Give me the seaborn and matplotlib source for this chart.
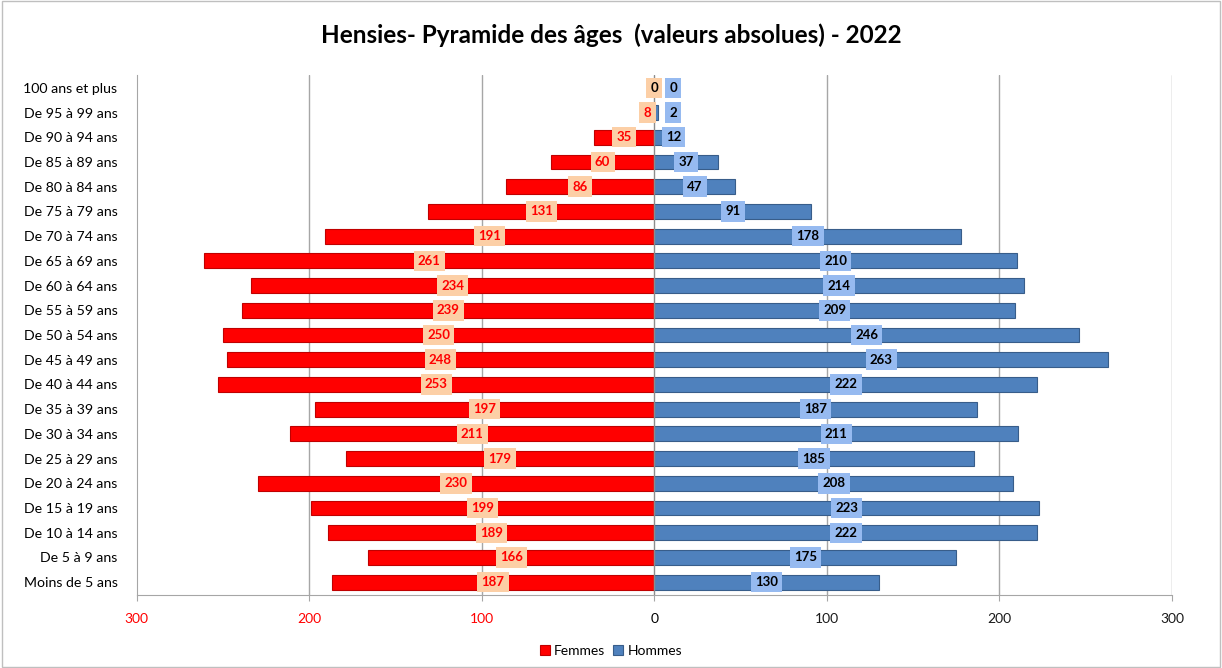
import pandas as pd
import numpy as np
import seaborn as sns
import matplotlib.pyplot as plt
from matplotlib.patches import Rectangle

# categories, top to bottom
ages = ["100 ans et plus", "De 95 à 99 ans", "De 90 à 94 ans", "De 85 à 89 ans",
        "De 80 à 84 ans", "De 75 à 79 ans", "De 70 à 74 ans", "De 65 à 69 ans",
        "De 60 à 64 ans", "De 55 à 59 ans", "De 50 à 54 ans", "De 45 à 49 ans",
        "De 40 à 44 ans", "De 35 à 39 ans", "De 30 à 34 ans", "De 25 à 29 ans",
        "De 20 à 24 ans", "De 15 à 19 ans", "De 10 à 14 ans", "De 5 à 9 ans",
        "Moins de 5 ans"]
femmes = [0, 8, 35, 60, 86, 131, 191, 261, 234, 239, 250, 248, 253, 197, 211,
          179, 230, 199, 189, 166, 187]
hommes = [0, 2, 12, 37, 47, 91, 178, 210, 214, 209, 246, 263, 222, 187, 211,
          185, 208, 223, 222, 175, 130]
x_ticks = [-300, -200, -100, 0, 100, 200, 300]
x_labels = ["300", "200", "100", "0", "100", "200", "300"]

RED = "#FF0000"
BLUE = "#4F81BD"

df = pd.DataFrame({
    "age": ages * 2,
    "valeur": [-v for v in femmes] + hommes,
    "sexe": ["Femmes"] * len(ages) + ["Hommes"] * len(ages),
})

sns.set_style("white")
plt.rcParams["font.family"] = ["Lato", "DejaVu Sans"]
plt.rcParams["text.color"] = "black"

fig = plt.figure(figsize=(12.22, 6.68), dpi=100)
ax = fig.add_axes([0.112, 0.110, 0.847, 0.777])

sns.barplot(data=df, x="valeur", y="age", hue="sexe", order=ages,
            palette={"Femmes": RED, "Hommes": BLUE}, dodge=False,
            width=0.6, orient="h", ax=ax, saturation=1)

# darker edge for a bit of the 3d look
for p in ax.patches:
    col = p.get_facecolor()
    if col[0] > 0.9:
        p.set_edgecolor("#C00000")
    else:
        p.set_edgecolor("#385D8A")
    p.set_linewidth(0.8)

ax.set_xlim(-300, 300)
ax.set_ylim(len(ages) - 0.5, -0.5)
for x in [-200, -100, 100, 200, 300]:
    ax.axvline(x, color="#A6A6A6", lw=1, zorder=0)
ax.axvline(0, color="#8C8C8C", lw=1, zorder=3)

ax.set_xticks(x_ticks)
ax.set_xticklabels(x_labels, fontsize=10)
for lab, x in zip(ax.get_xticklabels(), x_ticks):
    lab.set_color(RED if x < 0 else ("black" if x == 0 else "#1A1A1A"))
ax.tick_params(axis="x", length=4, pad=9, color="#A6A6A6", bottom=True)
ax.tick_params(axis="y", length=0, pad=14, labelsize=10.2, labelcolor="black")
ax.set_xlabel("")
ax.set_ylabel("")

for side in ["top", "right"]:
    ax.spines[side].set_visible(False)
for side in ["left", "bottom"]:
    ax.spines[side].set_color("#A6A6A6")

# data labels in the middle of each bar
for i, (f, h) in enumerate(zip(femmes, hommes)):
    ax.text(-f / 2, i, str(f), ha="center", va="center", fontsize=9.5,
            fontweight="bold", color=RED if f > 0 else "black", zorder=5,
            bbox=dict(boxstyle="square,pad=0.32", fc="#FCCFA6", ec="none"))
    ax.text(max(h / 2, 11), i, str(h), ha="center", va="center", fontsize=9.5,
            fontweight="bold", color="black", zorder=5,
            bbox=dict(boxstyle="square,pad=0.32", fc="#96BAF0", ec="none"))

handles, labels = ax.get_legend_handles_labels()
ax.get_legend().remove()
fig.legend(handles, labels, loc="center", bbox_to_anchor=(0.5, 0.026), ncol=2,
           frameon=False, fontsize=10, handlelength=0.7, handleheight=0.7,
           handletextpad=0.3, columnspacing=0.6)

fig.text(0.5, 0.947, "Hensies- Pyramide des âges  (valeurs absolues) - 2022",
         ha="center", va="center", fontsize=17.5, fontweight="bold", color="black")

fig.patches.append(Rectangle((0.002, 0.002), 0.996, 0.996, transform=fig.transFigure,
                             fill=False, edgecolor="#BFBFBF", lw=1))

fig.savefig("out.png", dpi=100)
